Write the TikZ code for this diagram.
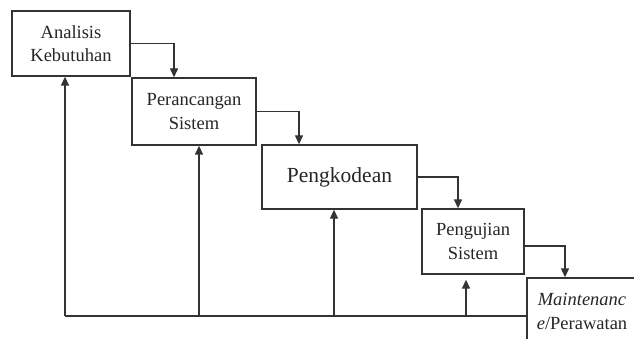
\documentclass[tikz,border=0pt]{standalone}
\usepackage{fontspec}
\setmainfont{Liberation Serif}
\usetikzlibrary{arrows.meta, positioning}

\begin{document}
\begin{tikzpicture} [x=1pt, y=-1pt,
    tahap/.style={draw=black!80, line width=1.4pt, fill=white, align=center,
        inner sep=0pt, text=black!85, font=\fontsize{18.5}{23.5}\selectfont},
    panah/.style={draw=black!80, line width=1.4pt,
        -{Triangle[length=9pt, width=8pt]}}]

\useasboundingbox (0,0) rectangle (634,339);
\clip (0,0) rectangle (634,339);

\node (anl) [tahap, minimum width=118pt, minimum height=65pt] at (71, 43.5) {Analisis\\Kebutuhan};

\node (prc) [tahap, minimum width=124pt, minimum height=67pt] at (194, 111.5) {Perancangan\\Sistem};

\node (kod) [tahap, minimum width=155pt, minimum height=64pt, font=\fontsize{21.5}{26}\selectfont] at (339.5, 177) {Pengkodean};

\node (uji) [tahap, minimum width=102pt, minimum height=65pt] at (473, 241.5) {Pengujian\\Sistem};

\node (mnt) [tahap, minimum width=110pt, minimum height=67pt] at (582, 311.5) {\textit{Maintenanc}\\\textit{e}/Perawatan};

% feedback points
\coordinate (b1) at (65, 316);
\coordinate (b2) at (199, 316);
\coordinate (b3) at (334, 316);
\coordinate (b4) at (466, 316);

% Arrows
\draw [panah] (anl.east) -| ([xshift=-20pt]prc.north);
\draw [panah] (prc.east) -| ([xshift=-40.5pt]kod.north);
\draw [panah] (kod.east) -| ([xshift=-15pt]uji.north);
\draw [panah] ([yshift=-4.5pt]uji.east) -| ([xshift=-17pt]mnt.north);

\draw [draw=black!80, line width=1.4pt] (mnt.west |- b1) -- (b1);
\draw [panah] (b1) -- (anl.south -| b1);
\draw [panah] (b2) -- (prc.south -| b2);
\draw [panah] (b3) -- (kod.south -| b3);
\draw [panah] (b4) -- ([yshift=-5pt]uji.south -| b4);
\end{tikzpicture}
\end{document}
